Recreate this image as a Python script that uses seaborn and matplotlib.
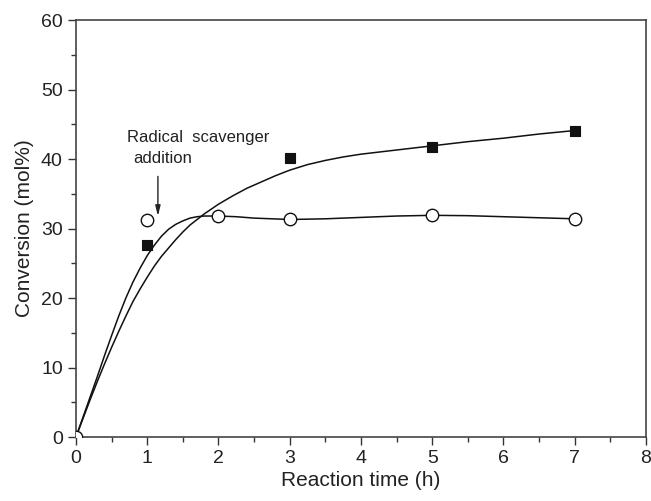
import matplotlib
matplotlib.use("Agg")
import matplotlib.pyplot as plt
import seaborn as sns
from matplotlib.ticker import MultipleLocator

sns.set_style("ticks")
plt.rcParams['font.family'] = ['Liberation Sans', 'DejaVu Sans']

# measured points
sq_time = [1, 3, 5, 7]
sq_conv = [27.7, 40.2, 41.8, 44.1]
ci_time = [0, 1, 2, 3, 5, 7]
ci_conv = [0, 31.2, 31.8, 31.3, 31.9, 31.4]

# fitted curves
sq_fit_t = [0, 0.1, 0.2, 0.3, 0.4, 0.5, 0.6, 0.7, 0.8, 0.9, 1.0, 1.1, 1.2, 1.3, 1.4, 1.5,
            1.6, 1.7, 1.8, 1.9, 2.0, 2.2, 2.4, 2.6, 2.8, 3.0, 3.25, 3.5, 3.75, 4.0, 4.5,
            5.0, 5.5, 6.0, 6.5, 7.0]
sq_fit_y = [0, 2.7, 5.4, 8.0, 10.5, 12.9, 15.2, 17.4, 19.5, 21.3, 23.0, 24.6, 26.0, 27.2, 28.4, 29.5,
            30.5, 31.3, 32.1, 32.8, 33.5, 34.7, 35.8, 36.7, 37.6, 38.4, 39.2, 39.8, 40.3, 40.7, 41.3,
            41.9, 42.5, 43.0, 43.6, 44.1]
ci_fit_t = [0, 0.1, 0.2, 0.3, 0.4, 0.5, 0.6, 0.7, 0.8, 0.9, 1.0, 1.1, 1.2, 1.3, 1.4, 1.5,
            1.6, 1.7, 1.8, 1.9, 2.0, 2.25, 2.5, 2.75, 3.0, 3.5, 4.0, 4.5, 5.0, 5.5, 6.0, 6.5, 7.0]
ci_fit_y = [0, 2.9, 5.8, 8.7, 11.7, 14.6, 17.4, 20.0, 22.3, 24.3, 26.1, 27.6, 28.9, 29.9, 30.6, 31.1,
            31.5, 31.7, 31.8, 31.8, 31.8, 31.7, 31.5, 31.4, 31.3, 31.4, 31.6, 31.8, 31.9, 31.85, 31.7, 31.55, 31.4]

fig = plt.figure(figsize=(6.51, 5.01), dpi=100)
ax = fig.add_axes([0.1167, 0.1277, 0.8756, 0.8323])

sns.lineplot(x=sq_fit_t, y=sq_fit_y, ax=ax, color='#111111', lw=1.1, sort=False)
sns.lineplot(x=ci_fit_t, y=ci_fit_y, ax=ax, color='#111111', lw=1.1, sort=False)
sns.scatterplot(x=sq_time, y=sq_conv, ax=ax, marker='s', s=50, color='#111111',
                edgecolor='#111111', linewidth=0.8, zorder=5)
sns.scatterplot(x=ci_time, y=ci_conv, ax=ax, marker='o', s=80, color='white',
                edgecolor='#111111', linewidth=1.0, zorder=5)

ax.set_xlim(0, 8)
ax.set_ylim(0, 60)
ax.xaxis.set_major_locator(MultipleLocator(1))
ax.xaxis.set_minor_locator(MultipleLocator(0.5))
ax.yaxis.set_major_locator(MultipleLocator(10))
ax.yaxis.set_minor_locator(MultipleLocator(5))
ax.tick_params(which='major', length=6, width=1, direction='out', labelsize=14, colors='#333333', labelcolor='#222222')
ax.tick_params(which='minor', length=3.5, width=1, direction='out', colors='#333333')
ax.tick_params(top=False, right=False, which='both')
for s in ax.spines.values():
    s.set_color('#444444')
    s.set_linewidth(1.2)

ax.set_xlabel('Reaction time (h)', fontsize=15, color='#222222', labelpad=3)
ax.set_ylabel('Conversion (mol%)', fontsize=15, color='#222222', labelpad=5)

ax.text(0.72, 42.5, 'Radical  scavenger', fontsize=12, color='#222222', ha='left', va='baseline')
ax.text(0.80, 39.5, 'addition', fontsize=12, color='#222222', ha='left', va='baseline')
ax.annotate('', xy=(1.15, 31.4), xytext=(1.15, 37.9),
            arrowprops=dict(arrowstyle='-|>,head_length=0.6,head_width=0.15', color='#222222', lw=1.0))

fig.savefig('out.png', dpi=100)
